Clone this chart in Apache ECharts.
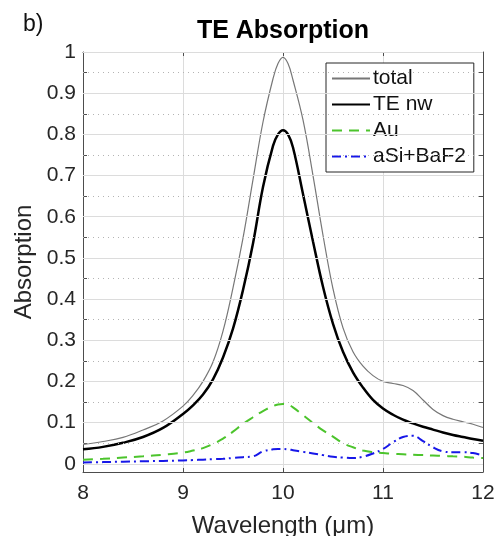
<!DOCTYPE html>
<html>
<head>
<meta charset="utf-8">
<title>TE Absorption</title>
<script src="https://cdn.jsdelivr.net/npm/echarts@6/dist/echarts.min.js"></script>
<style>
  html, body { margin: 0; padding: 0; background: #fff; }
  #chart { width: 494px; height: 536px; }
</style>
</head>
<body>
<div id="chart"></div>
<script>
// wavelength samples (um)
const wavelength = [8.0, 8.2, 8.4, 8.6, 8.8, 9.0, 9.1, 9.2, 9.3, 9.4, 9.5, 9.6, 9.7, 9.8, 9.9, 9.95,
  10.0, 10.05, 10.1, 10.2, 10.3, 10.4, 10.5, 10.6, 10.7, 10.8, 10.9, 11.0, 11.1, 11.2, 11.3, 11.4,
  11.5, 11.6, 11.7, 11.8, 11.9, 12.0]

const total = [0.047, 0.054, 0.064, 0.082, 0.104, 0.14, 0.166, 0.2, 0.247, 0.322, 0.427, 0.548, 0.69, 0.83, 0.935, 0.972,
  0.987, 0.972, 0.932, 0.835, 0.7, 0.555, 0.425, 0.33, 0.272, 0.237, 0.214, 0.2, 0.195, 0.19, 0.178, 0.155,
  0.132, 0.117, 0.108, 0.102, 0.096, 0.088]

const teNw = [0.035, 0.041, 0.051, 0.065, 0.087, 0.121, 0.142, 0.168, 0.205, 0.258, 0.328, 0.422, 0.535, 0.672, 0.772, 0.8,
  0.81, 0.8, 0.768, 0.655, 0.54, 0.43, 0.34, 0.272, 0.222, 0.185, 0.155, 0.134, 0.119, 0.107, 0.098, 0.09,
  0.083, 0.076, 0.07, 0.065, 0.06, 0.056]

const au = [0.01, 0.012, 0.015, 0.018, 0.022, 0.027, 0.032, 0.038, 0.048, 0.061, 0.078, 0.097, 0.113, 0.128, 0.14, 0.144,
  0.145, 0.143, 0.137, 0.118, 0.099, 0.081, 0.066, 0.05, 0.04, 0.032, 0.028, 0.026, 0.024, 0.023, 0.022, 0.021,
  0.02, 0.019, 0.018, 0.017, 0.015, 0.014]

const aSiBaF2 = [0.003, 0.004, 0.005, 0.006, 0.007, 0.008, 0.009, 0.01, 0.011, 0.012, 0.014, 0.016, 0.018, 0.03, 0.035, 0.036,
  0.036, 0.035, 0.033, 0.029, 0.025, 0.021, 0.017, 0.015, 0.014, 0.017, 0.025, 0.036, 0.052, 0.065, 0.068, 0.055,
  0.04, 0.03, 0.028, 0.028, 0.026, 0.02]

const yTickLabels = [0, 0.1, 0.2, 0.3, 0.4, 0.5, 0.6, 0.7, 0.8, 0.9, 1]
const yMinorGrid = [0.05, 0.15, 0.25, 0.35, 0.45, 0.55, 0.65, 0.75, 0.85, 0.95]
const yTicks = yTickLabels.concat(yMinorGrid)

const FONT = 'Liberation Sans, Arial, Helvetica, sans-serif'
const FRAME = '#4d4d4d'
const TEXT = '#262626'

function pairs(ys) {
  return wavelength.map((x, i) => [x, ys[i]])
}

const chart = echarts.init(document.getElementById('chart'), null, { renderer: 'canvas' })

const yAxisBase = {
  type: 'value',
  min: -0.02,
  max: 1,
  axisLine: { show: true, lineStyle: { color: FRAME, width: 1 } },
  axisTick: { show: true, inside: true, length: 4, customValues: yTicks, lineStyle: { color: FRAME } },
  splitLine: { show: false },
}

const xAxisBase = {
  type: 'value',
  min: 8,
  max: 12,
  interval: 1,
  axisLine: { show: true, onZero: false, lineStyle: { color: FRAME, width: 1 } },
  axisTick: { show: true, inside: true, length: 4, lineStyle: { color: FRAME } },
}

const lineSeries = (name, ys, color, width, type, z) => ({
  name,
  type: 'line',
  z,
  data: pairs(ys),
  symbol: 'none',
  smooth: 0.4,
  lineStyle: { color, width, type },
  itemStyle: { color },
})

chart.setOption({
  animation: false,
  backgroundColor: '#fff',
  textStyle: { fontFamily: FONT },
  title: {
    text: 'b)',
    left: 18,
    top: 8,
    textStyle: { fontFamily: FONT, fontSize: 23, fontWeight: 'normal', color: '#111' },
  },
  graphic: [
    {
      type: 'text',
      x: 283,
      y: 19,
      style: {
        text: 'TE Absorption',
        textAlign: 'center',
        textVerticalAlign: 'top',
        font: 'bold 25px ' + FONT,
        fill: '#000',
      },
    },
  ],
  grid: { left: 83, right: 11, top: 52, bottom: 64, containLabel: false, outerBoundsMode: 'none' },
  legend: {
    orient: 'vertical',
    left: 326,
    top: 63,
    data: ['total', 'TE nw', 'Au', 'aSi+BaF2'],
    itemWidth: 38,
    itemHeight: 10,
    itemGap: 5,
    padding: [5, 8, 5, 5],
    backgroundColor: '#fff',
    borderColor: '#262626',
    borderWidth: 1,
    borderRadius: 0,
    itemStyle: { opacity: 0 },
    textStyle: { fontFamily: FONT, fontSize: 21, color: '#111', padding: [0, 0, 0, -2] },
  },
  xAxis: [
    Object.assign({}, xAxisBase, {
      position: 'bottom',
      name: 'Wavelength (μm)',
      nameLocation: 'middle',
      nameGap: 42,
      nameTextStyle: { fontFamily: FONT, fontSize: 24, color: TEXT },
      axisLabel: { fontFamily: FONT, fontSize: 21, color: TEXT, margin: 11 },
      splitLine: { show: true, lineStyle: { color: '#dcdcdc', width: 1 } },
    }),
    Object.assign({}, xAxisBase, {
      position: 'top',
      axisLabel: { show: false },
      splitLine: { show: false },
    }),
  ],
  yAxis: [
    Object.assign({}, yAxisBase, {
      position: 'left',
      name: 'Absorption',
      nameLocation: 'middle',
      nameGap: 47,
      nameTextStyle: { fontFamily: FONT, fontSize: 24, color: TEXT },
      axisLabel: {
        fontFamily: FONT,
        fontSize: 21,
        color: TEXT,
        margin: 7,
        customValues: yTickLabels,
        formatter: (v) => String(v),
      },
    }),
    Object.assign({}, yAxisBase, {
      position: 'right',
      axisLabel: { show: false },
    }),
  ],
  series: [
    {
      name: 'grid',
      type: 'line',
      data: [],
      z: 1,
      silent: true,
      markLine: {
        silent: true,
        symbol: ['none', 'none'],
        label: { show: false },
        animation: false,
        data: yTickLabels.map((v) => ({ yAxis: v, lineStyle: { color: '#dcdcdc', width: 1, type: 'solid' } }))
          .concat(yMinorGrid.map((v) => ({ yAxis: v, lineStyle: { color: '#b4b4b4', width: 1, type: [1, 4] } }))),
      },
    },
    lineSeries('total', total, '#777777', 1.2, 'solid', 3),
    lineSeries('TE nw', teNw, '#000000', 2.5, 'solid', 4),
    lineSeries('Au', au, '#4cc42c', 2, [10, 7], 3),
    lineSeries('aSi+BaF2', aSiBaF2, '#1717e8', 2, [9, 4, 2, 4], 3),
  ],
})

window.addEventListener('resize', () => chart.resize())
</script>
</body>
</html>
